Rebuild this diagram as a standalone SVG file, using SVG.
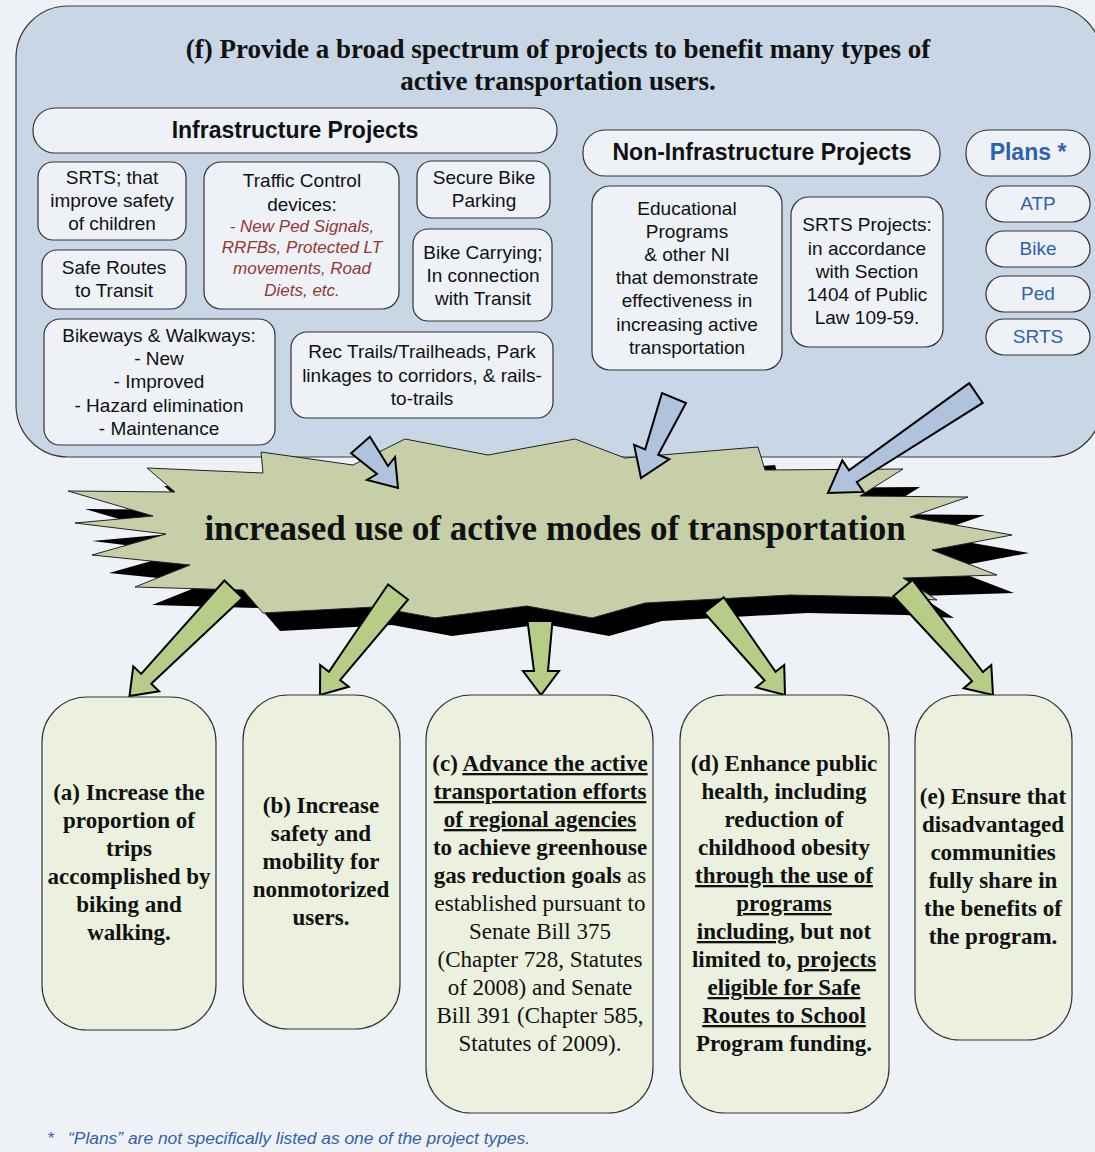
<svg xmlns="http://www.w3.org/2000/svg" width="1095" height="1152" viewBox="0 0 1095 1152">
<style>
.bg{fill:#eef2f7}
.panel{fill:#c8d6e6;stroke:#3a3a3a;stroke-width:1.2}
.box{fill:#eef2f7;stroke:#333;stroke-width:1.2}
.goal{fill:#ebf0df;stroke:#333;stroke-width:1.2}
.t{font-family:"Liberation Sans",Arial,sans-serif;font-size:19px;fill:#111;text-anchor:middle}
.h{font-family:"Liberation Sans",Arial,sans-serif;font-size:23px;font-weight:bold;fill:#111;text-anchor:middle}
.blue{fill:#2e62ad}
.red{font-family:"Liberation Sans",Arial,sans-serif;font-size:17px;font-style:italic;fill:#943634;text-anchor:middle}
.title{font-family:"Liberation Serif","Times New Roman",serif;font-size:27px;font-weight:bold;fill:#111;text-anchor:middle}
.burst{font-family:"Liberation Serif","Times New Roman",serif;font-size:35px;font-weight:bold;fill:#111;text-anchor:middle}
.g{font-family:"Liberation Serif","Times New Roman",serif;font-size:23px;font-weight:bold;fill:#111;text-anchor:middle}
.n{font-weight:normal}
.u{text-decoration:underline}
.barrow{fill:#b0c3dc;stroke:#000;stroke-width:2;stroke-linejoin:miter}
.garrow{fill:#b6cc87;stroke:#000;stroke-width:2;stroke-linejoin:miter}
.foot{font-family:"Liberation Sans",Arial,sans-serif;font-size:17.4px;font-style:italic;fill:#2e62ad}
</style>
<rect class="bg" x="0" y="0" width="1095" height="1152"/>

<g id="panel-f">
<rect class="panel" x="16" y="6" width="1086" height="451" rx="52" ry="52"/>
<text class="title" x="558" y="58">(f) Provide a broad spectrum of projects to benefit many types of</text>
<text class="title" x="558" y="90">active transportation users.</text>
</g>

<g id="infrastructure-header">
<rect class="box" x="33" y="108" width="524" height="45" rx="22"/>
<text class="h" x="295" y="138">Infrastructure Projects</text>
</g>
<g id="srts-children">
<rect class="box" x="38" y="162" width="148" height="78" rx="15"/>
<text class="t" x="112" y="184">SRTS; that</text>
<text class="t" x="112" y="207">improve safety</text>
<text class="t" x="112" y="230">of children</text>
</g>
<g id="safe-routes-transit">
<rect class="box" x="42" y="250" width="144" height="59" rx="15"/>
<text class="t" x="114" y="274">Safe Routes</text>
<text class="t" x="114" y="297">to Transit</text>
</g>
<g id="traffic-control">
<rect class="box" x="204" y="162" width="195" height="147" rx="17"/>
<text class="t" x="302" y="187">Traffic Control</text>
<text class="t" x="302" y="211">devices:</text>
<text class="red" x="302" y="232">- New Ped Signals,</text>
<text class="red" x="302" y="253">RRFBs, Protected LT</text>
<text class="red" x="302" y="274">movements, Road</text>
<text class="red" x="302" y="296">Diets, etc.</text>
</g>
<g id="secure-bike-parking">
<rect class="box" x="417" y="161" width="133" height="57" rx="15"/>
<text class="t" x="484" y="184">Secure Bike</text>
<text class="t" x="484" y="207">Parking</text>
</g>
<g id="bike-carrying">
<rect class="box" x="413" y="229" width="139" height="92" rx="15"/>
<text class="t" x="483" y="259">Bike Carrying;</text>
<text class="t" x="483" y="282">In connection</text>
<text class="t" x="483" y="305">with Transit</text>
</g>
<g id="bikeways-walkways">
<rect class="box" x="44" y="319" width="231" height="126" rx="16"/>
<text class="t" x="159" y="342">Bikeways &amp; Walkways:</text>
<text class="t" x="159" y="365">- New</text>
<text class="t" x="159" y="388">- Improved</text>
<text class="t" x="159" y="412">- Hazard elimination</text>
<text class="t" x="159" y="435">- Maintenance</text>
</g>
<g id="rec-trails">
<rect class="box" x="291" y="332" width="262" height="86" rx="16"/>
<text class="t" x="422" y="358">Rec Trails/Trailheads, Park</text>
<text class="t" x="422" y="382">linkages to corridors, &amp; rails-</text>
<text class="t" x="422" y="405">to-trails</text>
</g>

<g id="non-infrastructure-header">
<rect class="box" x="583" y="130" width="357" height="46" rx="22"/>
<text class="h" x="762" y="160">Non-Infrastructure Projects</text>
</g>
<g id="educational-programs">
<rect class="box" x="592" y="186" width="190" height="184" rx="18"/>
<text class="t" x="687" y="215">Educational</text>
<text class="t" x="687" y="238">Programs</text>
<text class="t" x="687" y="261">&amp; other NI</text>
<text class="t" x="687" y="284">that demonstrate</text>
<text class="t" x="687" y="307">effectiveness in</text>
<text class="t" x="687" y="331">increasing active</text>
<text class="t" x="687" y="354">transportation</text>
</g>
<g id="srts-projects">
<rect class="box" x="791" y="197" width="152" height="150" rx="18"/>
<text class="t" x="867" y="231">SRTS Projects:</text>
<text class="t" x="867" y="255">in accordance</text>
<text class="t" x="867" y="278">with Section</text>
<text class="t" x="867" y="301">1404 of Public</text>
<text class="t" x="867" y="324">Law 109-59.</text>
</g>

<g id="plans-header">
<rect class="box" x="966" y="130" width="124" height="46" rx="22"/>
<text class="h blue" x="1028" y="160">Plans *</text>
</g>
<g id="plan-atp">
<rect class="box" x="986" y="186" width="104" height="36" rx="18"/>
<text class="t blue" x="1038" y="210">ATP</text>
</g>
<g id="plan-bike">
<rect class="box" x="986" y="231" width="104" height="36" rx="18"/>
<text class="t blue" x="1038" y="255">Bike</text>
</g>
<g id="plan-ped">
<rect class="box" x="986" y="276" width="104" height="36" rx="18"/>
<text class="t blue" x="1038" y="300">Ped</text>
</g>
<g id="plan-srts">
<rect class="box" x="986" y="319" width="104" height="36" rx="18"/>
<text class="t blue" x="1038" y="343">SRTS</text>
</g>

<g id="starburst">
<polygon fill="#000" transform="translate(17,18)" points="68,491 175,492 147,468 263,473 261,452 353,465 405,439 488,455 575,439 625,458 758,447 765,470 903,469 860,496 968,497 910,517 1012,535 932,550 997,575 903,578 937,600 888,597 790,595 645,603 592,618 527,606 435,618 375,607 263,613 243,590 135,587 190,565 92,555 166,534 75,523 153,516"/>
<polygon fill="#c6cfa8" stroke="#222" stroke-width="1" points="68,491 175,492 147,468 263,473 261,452 353,465 405,439 488,455 575,439 625,458 758,447 765,470 903,469 860,496 968,497 910,517 1012,535 932,550 997,575 903,578 937,600 888,597 790,595 645,603 592,618 527,606 435,618 375,607 263,613 243,590 135,587 190,565 92,555 166,534 75,523 153,516"/>
<text class="burst" x="555" y="540">increased use of active modes of transportation</text>
</g>

<g id="connectors">
<polygon class="barrow" points="369.9,436.8 388,466 395,457 398,488 367,480 377,474 351.1,453.2"/>
<polygon class="barrow" points="662,393 645.2,449.4 634.1,444.9 641,478 669.3,459.3 658.2,454.8 686,403"/>
<polygon class="barrow" points="969.3,383.1 849,470.4 842.3,460.4 828,493 863.5,491.9 856.8,482 982.7,402.9"/>
<polygon class="garrow" points="224.4,580.5 141.2,673.9 133.3,666.3 129.5,696 159.1,691.3 151.2,683.7 242.4,597.9"/>
<polygon class="garrow" points="388,584.45 328.9,671.7 320.2,665 320,695 348.8,686.8 340.1,680.1 408,599.55"/>
<polygon class="garrow" points="527.5,621 534,671 523,671 541,695 559,671 548,671 552.5,621"/>
<polygon class="garrow" points="723.8,597.25 775.6,671.9 784.2,665 785,695 756,687.4 764.6,680.5 704.2,612.75"/>
<polygon class="garrow" points="912.6,579.95 982.9,672.1 991.3,665 993,695 963.7,688.2 972.1,681.1 893.4,596.05"/>
</g>

<g id="goal-a">
<rect class="goal" x="42" y="697" width="174" height="333" rx="45"/>
<text class="g" x="129" y="800">(a) Increase the</text>
<text class="g" x="129" y="828">proportion of</text>
<text class="g" x="129" y="856">trips</text>
<text class="g" x="129" y="884">accomplished by</text>
<text class="g" x="129" y="912">biking and</text>
<text class="g" x="129" y="940">walking.</text>
</g>
<g id="goal-b">
<rect class="goal" x="243" y="695" width="157" height="334" rx="45"/>
<text class="g" x="321" y="813">(b) Increase</text>
<text class="g" x="321" y="841">safety and</text>
<text class="g" x="321" y="869">mobility for</text>
<text class="g" x="321" y="897">nonmotorized</text>
<text class="g" x="321" y="925">users.</text>
</g>
<g id="goal-c">
<rect class="goal" x="426" y="695" width="227" height="418" rx="45"/>
<text class="g" x="540" y="771">(c) <tspan class="u">Advance the active</tspan></text>
<text class="g u" x="540" y="799">transportation efforts</text>
<text class="g u" x="540" y="827">of regional agencies</text>
<text class="g" x="540" y="855">to achieve greenhouse</text>
<text class="g" x="540" y="883">gas reduction goals<tspan class="n"> as</tspan></text>
<text class="g n" x="540" y="911">established pursuant to</text>
<text class="g n" x="540" y="939">Senate Bill 375</text>
<text class="g n" x="540" y="967">(Chapter 728, Statutes</text>
<text class="g n" x="540" y="995">of 2008) and Senate</text>
<text class="g n" x="540" y="1023">Bill 391 (Chapter 585,</text>
<text class="g n" x="540" y="1051">Statutes of 2009).</text>
</g>
<g id="goal-d">
<rect class="goal" x="680" y="695" width="209" height="418" rx="45"/>
<text class="g" x="784" y="771">(d) Enhance public</text>
<text class="g" x="784" y="799">health, including</text>
<text class="g" x="784" y="827">reduction of</text>
<text class="g" x="784" y="855">childhood obesity</text>
<text class="g u" x="784" y="883">through the use of</text>
<text class="g u" x="784" y="911">programs</text>
<text class="g" x="784" y="939"><tspan class="u">including</tspan>, but not</text>
<text class="g" x="784" y="967">limited to, <tspan class="u">projects</tspan></text>
<text class="g u" x="784" y="995">eligible for Safe</text>
<text class="g u" x="784" y="1023">Routes to School</text>
<text class="g" x="784" y="1051">Program funding.</text>
</g>
<g id="goal-e">
<rect class="goal" x="915" y="695" width="157" height="345" rx="45"/>
<text class="g" x="993" y="804">(e) Ensure that</text>
<text class="g" x="993" y="832">disadvantaged</text>
<text class="g" x="993" y="860">communities</text>
<text class="g" x="993" y="888">fully share in</text>
<text class="g" x="993" y="916">the benefits of</text>
<text class="g" x="993" y="944">the program.</text>
</g>

<g id="footnote">
<text class="foot" x="47" y="1144">*</text>
<text class="foot" x="68" y="1144">“Plans” are not specifically listed as one of the project types.</text>
</g>
</svg>
